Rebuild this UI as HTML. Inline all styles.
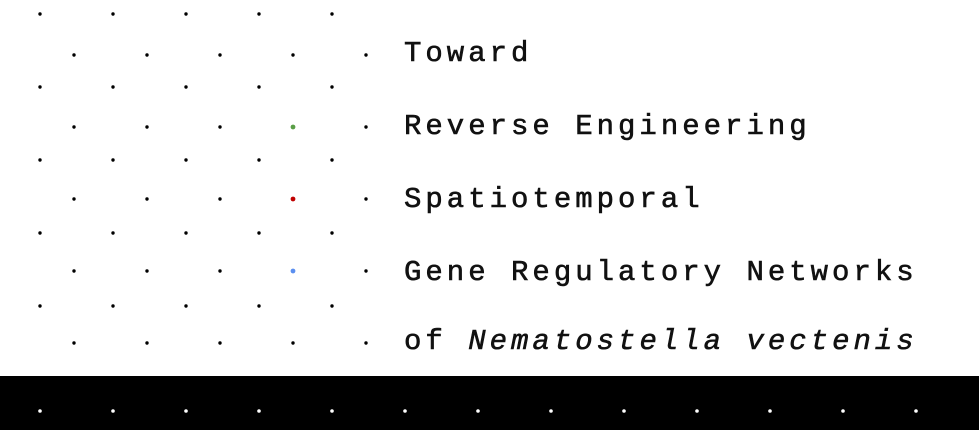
<!DOCTYPE html>
<html><head><meta charset="utf-8"><style>
html,body{margin:0;padding:0;background:#fff;width:979px;height:430px;overflow:hidden}
svg text{font-family:"Liberation Mono",monospace;font-size:29px;letter-spacing:4px;fill:#111;stroke:#111;stroke-width:0.6px}
</style></head><body>
<svg width="979" height="430">
<g id="dots"></g>
<rect x="0" y="376" width="979" height="54" fill="#000"/>
<g id="fdots"></g>
<text x="404" y="61">Toward</text>
<text x="404" y="134">Reverse Engineering</text>
<text x="404" y="207">Spatiotemporal</text>
<text x="404" y="280">Gene Regulatory Networks</text>
<text x="404" y="349">of <tspan font-style="italic">Nematostella vectenis</tspan></text>
</svg>
<script>
const ns="http://www.w3.org/2000/svg";
const g=document.getElementById('dots');
const colored={"1-3":"#5a9e46","2-3":"#c00000","3-3":"#5b8ff0"};
for(let r=0;r<5;r++){
  for(let c=0;c<5;c++){
    let d=document.createElementNS(ns,'circle');
    d.setAttribute('cx',40+73*c);d.setAttribute('cy',14+73*r);d.setAttribute('r',1.7);d.setAttribute('fill','#000');
    
    
    g.appendChild(d);
    let e=document.createElementNS(ns,'circle');
    const col=colored[r+"-"+c];
    e.setAttribute('cx',74+73*c);e.setAttribute('cy',55+72*r);e.setAttribute('r',col?2.4:1.7);e.setAttribute('fill',col||'#000');
    
    
    g.appendChild(e);
  }
}
const f=document.getElementById('fdots');
for(let c=0;c<13;c++){
  let d=document.createElementNS(ns,'circle');
  d.setAttribute('cx',40+73*c);d.setAttribute('cy',411);d.setAttribute('r',1.8);d.setAttribute('fill','#fff');
  
  
  f.appendChild(d);
}
</script>
</body></html>
